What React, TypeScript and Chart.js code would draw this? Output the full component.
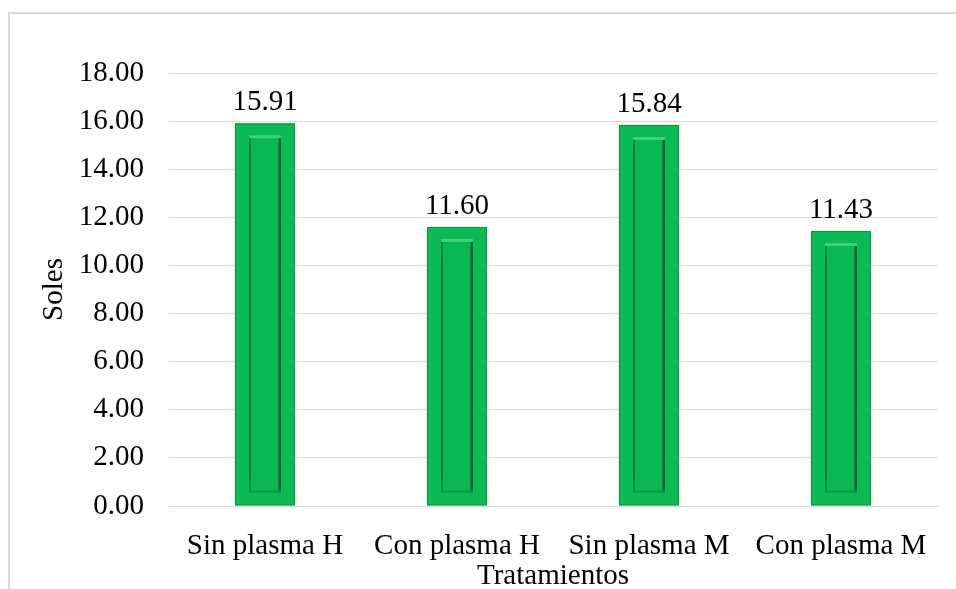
import React, { useEffect, useRef } from "react";
import { Chart, registerables } from "chart.js";

Chart.register(...registerables);

const categories = ["Sin plasma H", "Con plasma H", "Sin plasma M", "Con plasma M"];
const values = [15.91, 11.6, 15.84, 11.43];
const yTickMin = 0;
const yTickMax = 18;
const yTickStep = 2;
const yTitle = "Soles";
const xTitle = "Tratamientos";

const FONT = "'Liberation Serif', 'Times New Roman', serif";
const FS = 29;
const BAR = "#0ABA52";

const frame = {
  id: "frame",
  beforeDraw(chart: any) {
    const ctx = chart.ctx;
    ctx.save();
    ctx.fillStyle = "#ffffff";
    ctx.fillRect(0, 0, chart.width, chart.height);
    ctx.strokeStyle = "#d9d9d9";
    ctx.lineWidth = 2;
    ctx.beginPath();
    ctx.moveTo(9, chart.height);
    ctx.lineTo(9, 13);
    ctx.lineTo(chart.width, 13);
    ctx.stroke();
    ctx.restore();
  },
};

const bevelAndLabels = {
  id: "bevelAndLabels",
  afterDatasetsDraw(chart: any) {
    const ctx = chart.ctx;
    const meta = chart.getDatasetMeta(0);
    ctx.save();
    meta.data.forEach((bar: any, i: number) => {
      const left = bar.x - bar.width / 2;
      const right = bar.x + bar.width / 2;
      const top = bar.y;
      const bottom = bar.base;
      const il = left + 14;
      const ir = right - 14;
      const it = top + 12;
      const ib = bottom - 13;
      ctx.fillStyle = "#0BB752";
      ctx.fillRect(il, it, ir - il, ib - it);
      ctx.fillStyle = "#3BD278";
      ctx.fillRect(il, it, ir - il, 3);
      ctx.fillStyle = "#07823A";
      ctx.fillRect(il, it + 3, 2, ib - it - 3);
      ctx.fillStyle = "#055F2A";
      ctx.fillRect(ir - 2.5, it + 3, 2.5, ib - it - 3);
      ctx.fillStyle = "#09994A";
      ctx.fillRect(il, ib - 2, ir - il, 2);
      ctx.strokeStyle = "rgba(0,120,50,0.5)";
      ctx.lineWidth = 1;
      ctx.strokeRect(left + 0.5, top + 0.5, bar.width - 1, bottom - top - 1);
      ctx.fillStyle = "#000000";
      ctx.font = `${FS}px ${FONT}`;
      ctx.textAlign = "center";
      ctx.textBaseline = "alphabetic";
      ctx.fillText(values[i].toFixed(2), bar.x, top - 13);
    });
    ctx.restore();
  },
};

export default function App() {
  const ref = useRef<HTMLCanvasElement | null>(null);
  useEffect(() => {
    if (!ref.current) return;
    const chart = new Chart(ref.current, {
      type: "bar",
      data: {
        labels: categories,
        datasets: [
          {
            data: values,
            backgroundColor: BAR,
            borderWidth: 0,
            barPercentage: 0.625,
            categoryPercentage: 0.5,
          },
        ],
      },
      options: {
        responsive: false,
        animation: false,
        devicePixelRatio: 1,
        layout: { padding: { left: 20, top: 73, right: 19, bottom: 0 } },
        plugins: {
          legend: { display: false },
          tooltip: { enabled: false },
        },
        scales: {
          x: {
            grid: { display: false },
            border: { display: true, color: "#d9d9d9", width: 1 },
            ticks: {
              color: "#000",
              font: { family: FONT, size: FS },
              padding: 15,
              maxRotation: 0,
              autoSkip: false,
            },
            title: {
              display: true,
              text: xTitle,
              color: "#000",
              font: { family: FONT, size: FS },
              padding: { top: -6, bottom: -5 },
            },
            afterFit(scale: any) {
              scale.height = 83;
            },
          },
          y: {
            min: yTickMin,
            max: yTickMax,
            ticks: {
              stepSize: yTickStep,
              color: "#000",
              font: { family: FONT, size: FS },
              padding: 25,
              callback: (v: any) => Number(v).toFixed(2),
            },
            grid: { color: "#d9d9d9", lineWidth: 1, drawTicks: false },
            border: { display: false },
            title: {
              display: true,
              text: yTitle,
              color: "#000",
              font: { family: FONT, size: FS },
              padding: { top: 17, bottom: 4 },
            },
            afterFit(scale: any) {
              scale.width = 149;
            },
          },
        },
      },
      plugins: [frame, bevelAndLabels],
    });
    return () => chart.destroy();
  }, []);
  return (
    <div style={{ position: "absolute", left: 0, top: 0, width: 956, height: 589 }}>
      <canvas ref={ref} width={956} height={589} />
    </div>
  );
}
